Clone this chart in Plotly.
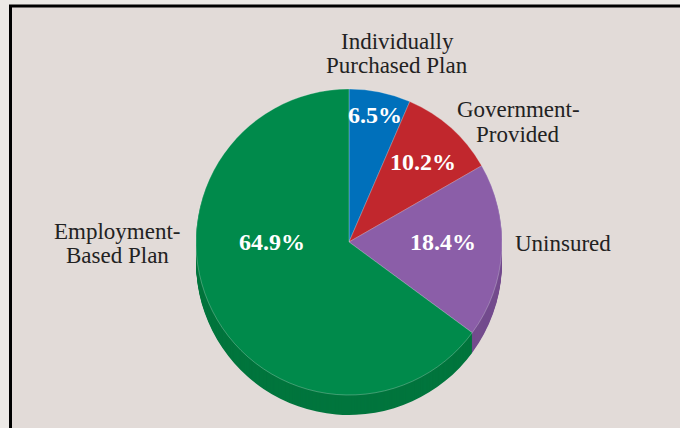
import plotly.graph_objects as go

# Health coverage shares (percent)
categories = ["Individually Purchased Plan", "Government-Provided", "Uninsured", "Employment-Based Plan"]
shares = [6.5, 10.2, 18.4, 64.9]

# Outside category captions, one entry per line of text
caption_lines = [["Individually", "Purchased Plan"], ["Government-", "Provided"], ["Uninsured"], ["Employment-", "Based Plan"]]

face_colors = ["#0070bb", "#c1272d", "#8b5ea8", "#008a4b"]
side_colors = ["#005a96", "#9b1e24", "#744c8e", "#00753d"]

W, H = 680, 428
CX, CY, R = 349, 242, 153      # pie centre and radius in pixels
DEPTH = 20                     # thickness of the pie's side wall in pixels

# pixel helpers for paper coordinates
px = lambda x: x / W
py = lambda y: 1 - y / H

fig = go.Figure()

def pie_trace(offset, colors, line):
    top = CY - R + offset
    bottom = CY + R + offset
    return go.Pie(
        labels=categories, values=shares, sort=False,
        direction="clockwise", rotation=0,
        domain=dict(x=[px(CX - R), px(CX + R)], y=[py(bottom), py(top)]),
        marker=dict(colors=colors, line=line),
        textinfo="none", hoverinfo="label+percent", showlegend=False,
    )

# side wall: stacked copies shifted downward, deepest first
for k in range(DEPTH, 0, -1):
    fig.add_trace(pie_trace(k, side_colors, dict(width=0)))

# top face
fig.add_trace(pie_trace(0, face_colors, dict(width=0.6, color="rgba(235,245,240,0.45)")))

serif = "Liberation Serif, Times New Roman, serif"

# percentage labels inside the slices
pct_pos = [(375, 115), (423, 162), (443, 242), (272, 242)]
for v, (x, y) in zip(shares, pct_pos):
    fig.add_annotation(x=px(x), y=py(y), xref="paper", yref="paper",
                       text=f"<b>{v:.1f}%</b>", showarrow=False,
                       font=dict(family=serif, size=24, color="white"),
                       xanchor="center", yanchor="middle")

# category captions outside the pie
cap_pos = [(397, 42, "center"), (518, 110, "center"), (513, 243, "left"), (117, 231, "center")]
LINE = 24
for lines, (x, y, anchor) in zip(caption_lines, cap_pos):
    for i, t in enumerate(lines):
        fig.add_annotation(x=px(x), y=py(y + i * LINE), xref="paper", yref="paper",
                           text=t, showarrow=False,
                           font=dict(family=serif, size=23, color="#222222"),
                           xanchor=anchor, yanchor="middle")

# framed panel behind the chart
fig.add_shape(type="rect", xref="paper", yref="paper",
              x0=px(10.5), x1=px(W + 20), y0=py(H + 20), y1=py(6),
              line=dict(color="black", width=3), fillcolor="#e2dbd8", layer="below")

fig.update_layout(
    width=W, height=H,
    margin=dict(l=0, r=0, t=0, b=0),
    paper_bgcolor="#ece9e6", plot_bgcolor="#ece9e6",
)

fig.write_html("out.html")
